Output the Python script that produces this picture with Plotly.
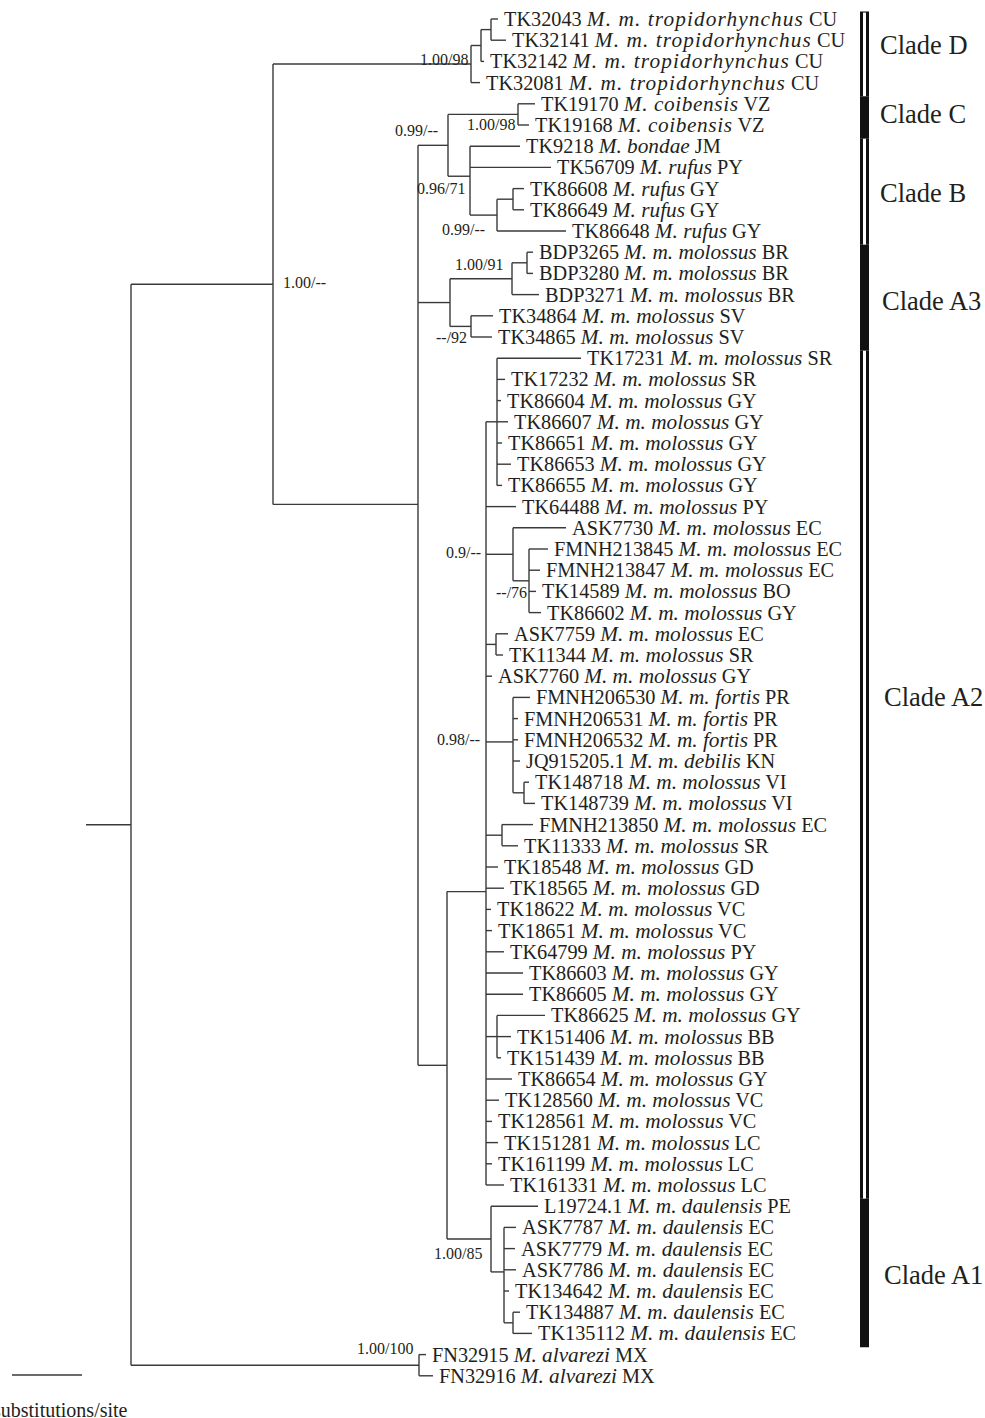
import plotly.graph_objects as go

# ---------------- data ----------------
tip_ids = ["TK32043", "TK32141", "TK32142", "TK32081", "TK19170", "TK19168", "TK9218", "TK56709",
           "TK86608", "TK86649", "TK86648", "BDP3265", "BDP3280", "BDP3271", "TK34864", "TK34865",
           "TK17231", "TK17232", "TK86604", "TK86607", "TK86651", "TK86653", "TK86655", "TK64488",
           "ASK7730", "FMNH213845", "FMNH213847", "TK14589", "TK86602", "ASK7759", "TK11344", "ASK7760",
           "FMNH206530", "FMNH206531", "FMNH206532", "JQ915205.1", "TK148718", "TK148739", "FMNH213850",
           "TK11333", "TK18548", "TK18565", "TK18622", "TK18651", "TK64799", "TK86603", "TK86605",
           "TK86625", "TK151406", "TK151439", "TK86654", "TK128560", "TK128561", "TK151281", "TK161199",
           "TK161331", "L19724.1", "ASK7787", "ASK7779", "ASK7786", "TK134642", "TK134887", "TK135112",
           "FN32915", "FN32916"]
tip_taxa = (["M. m. tropidorhynchus"] * 4 + ["M. coibensis"] * 2 + ["M. bondae"] + ["M. rufus"] * 4
            + ["M. m. molossus"] * 21 + ["M. m. fortis"] * 3 + ["M. m. debilis"] + ["M. m. molossus"] * 20
            + ["M. m. daulensis"] * 7 + ["M. alvarezi"] * 2)
tip_codes = ["CU", "CU", "CU", "CU", "VZ", "VZ", "JM", "PY", "GY", "GY", "GY", "BR", "BR", "BR", "SV", "SV",
             "SR", "SR", "GY", "GY", "GY", "GY", "GY", "PY", "EC", "EC", "EC", "BO", "GY", "EC", "SR", "GY",
             "PR", "PR", "PR", "KN", "VI", "VI", "EC", "SR", "GD", "GD", "VC", "VC", "PY", "GY", "GY",
             "GY", "BB", "BB", "GY", "VC", "VC", "LC", "LC", "LC", "PE", "EC", "EC", "EC", "EC", "EC", "EC",
             "MX", "MX"]
# depth (cumulative branch length, drawing units) of each tip
tip_depth = [498, 506, 484, 480, 535, 529, 520, 551, 524, 524, 566, 533, 533, 539, 493, 492,
             581, 505, 501, 508, 502, 511, 502, 516, 566, 548, 540, 536, 541, 508, 503, 492,
             530, 518, 518, 520, 529, 535, 533, 518, 498, 504, 491, 492, 504, 523, 523,
             545, 511, 501, 512, 499, 492, 498, 492, 504, 538, 516, 515, 516, 509, 520, 532,
             426, 433]

# internal nodes: name, depth, children (ints = tips, str = nodes)
node_names = ["root", "outgroup", "ingroup", "D", "D1", "D2", "ABC", "CB", "C", "B", "Ruf", "RufS",
              "A3", "BR", "BRs", "SV", "A", "A2", "G1", "N09", "N76", "P30", "N098", "VI", "P38", "BB",
              "A1", "A1s", "A1ss"]
node_depth = [131, 419, 273, 471, 481, 491, 418, 448, 518, 470, 497, 513,
              450, 512, 527, 471, 447, 486, 497, 513, 529, 496, 513, 524, 502, 497,
              491, 504, 513]
node_children = [
    ["ingroup", "outgroup"], [63, 64], ["D", "ABC"], ["D1", 3], ["D2", 2], [0, 1],
    ["CB", "A3", "A"], ["C", "B"], [4, 5], [6, 7, "Ruf"], ["RufS", 10], [8, 9],
    ["BR", "SV"], ["BRs", 13], [11, 12], [14, 15], ["A2", "A1"],
    ["G1", 23, "N09", "P30", 31, "N098", "P38", 40, 41, 42, 43, 44, 45, 46, "BB", 50, 51, 52, 53, 54, 55],
    [16, 17, 18, 19, 20, 21, 22], [24, "N76"], [25, 26, 27, 28], [29, 30], [32, 33, 34, 35, "VI"],
    [36, 37], [38, 39], [47, 48, 49], [56, "A1s"], [57, 58, 59, 60, "A1ss"], [61, 62]]

support_nodes = ["D", "C", "CB", "B", "Ruf", "BR", "SV", "ingroup", "N09", "N76", "N098", "A1", "outgroup"]
support_text = ["1.00/98", "1.00/98", "0.99/--", "0.96/71", "0.99/--", "1.00/91", "--/92", "1.00/--",
                "0.9/--", "--/76", "0.98/--", "1.00/85", "1.00/100"]

clade_names = ["Clade D", "Clade C", "Clade B", "Clade A3", "Clade A2", "Clade A1"]
clade_first = [0, 4, 6, 11, 16, 56]
clade_last = [3, 5, 10, 15, 55, 62]
clade_filled = [False, True, False, True, False, True]

scale_label = "substitutions/site"

# ---------------- layout helpers ----------------
W, H = 985, 1418
ROW0, ROWH = 19.0, 21.2
FONT = "Liberation Serif"
TXT = "#231f20"
LINE = "#3a3a3a"

tip_y = [ROW0 + ROWH * i for i in range(len(tip_ids))]
nidx = {n: i for i, n in enumerate(node_names)}
node_y = {}


def pos(c):
    if isinstance(c, int):
        return tip_depth[c], tip_y[c]
    return node_depth[nidx[c]], get_y(c)


def get_y(n):
    if n not in node_y:
        ys = [pos(c)[1] for c in node_children[nidx[n]]]
        node_y[n] = sum(ys) / len(ys)
    return node_y[n]


xs, ys = [], []
for n in node_names:
    nx = node_depth[nidx[n]]
    cys = [pos(c)[1] for c in node_children[nidx[n]]]
    xs += [nx, nx, None]
    ys += [min(cys), max(cys), None]
    for c in node_children[nidx[n]]:
        cx, cy = pos(c)
        xs += [nx, cx, None]
        ys += [cy, cy, None]
# root stub
ry = get_y("root")
xs += [86, node_depth[nidx["root"]], None]
ys += [ry, ry, None]
# scale bar
xs += [12, 82, None]
ys += [1375, 1375, None]

fig = go.Figure()
fig.add_trace(go.Scatter(x=xs, y=ys, mode="lines", line=dict(color=LINE, width=1.4),
                         hoverinfo="skip", showlegend=False))

# per-taxon italic letter spacing (style only)
spacing = {"M. m. tropidorhynchus": 1.1, "M. coibensis": 0.6}

ann = []
for i in range(len(tip_ids)):
    sp = spacing.get(tip_taxa[i], 0)
    style = f"font-size:21.3px;letter-spacing:{sp}px" if sp else "font-size:21.3px"
    ann.append(dict(x=tip_depth[i] + 4, y=tip_y[i], xanchor="left", yanchor="middle",
                    text=f"{tip_ids[i]} <i><span style='{style}'>{tip_taxa[i]}</span></i> {tip_codes[i]}",
                    showarrow=False, font=dict(family=FONT, size=20.3, color=TXT)))

# support label placement (dx, dy, anchor) relative to node
place = {"D": (-1, -5, "right"), "C": (-1, 10, "right"), "CB": (-8, -15, "right"),
         "B": (-3, 12, "right"), "Ruf": (-10, 14, "right"), "BR": (-7, -14, "right"),
         "SV": (-2, 11.5, "right"), "ingroup": (8, -2, "left"), "N09": (-30, -2, "right"),
         "N76": (0, 11.5, "right"), "N098": (-31, -2, "right"), "A1": (-7, 14, "right"),
         "outgroup": (-4, -16.5, "right")}
for n, t in zip(support_nodes, support_text):
    dx, dy, anc = place[n]
    ann.append(dict(x=node_depth[nidx[n]] + dx, y=get_y(n) + dy, xanchor=anc, yanchor="middle",
                    text=t, showarrow=False, font=dict(family=FONT, size=16, color=TXT)))

# clade bars
shapes = []
BX0, BX1 = 860, 869
label_y = [45, 114, 193, 301, 697, 1275]
label_x = [878, 878, 878, 880, 882, 882]
for k in range(len(clade_names)):
    y0 = ROW0 + ROWH * (clade_first[k] - 0.35)
    y1 = ROW0 + ROWH * (clade_last[k] + 0.65)
    shapes.append(dict(type="rect", x0=BX0, x1=BX1, y0=y0, y1=y1, fillcolor="#111111",
                       line=dict(width=0), layer="above"))
    if not clade_filled[k]:
        shapes.append(dict(type="rect", x0=BX0 + 3, x1=BX1 - 3, y0=y0 + 1 if k == 0 else y0,
                           y1=y1, fillcolor="white", line=dict(width=0), layer="above"))
    ann.append(dict(x=label_x[k], y=label_y[k], xanchor="left", yanchor="middle", text=clade_names[k],
                    showarrow=False, font=dict(family=FONT, size=26.5, color=TXT)))

ann.append(dict(x=130, y=1410, xanchor="right", yanchor="middle", text=scale_label,
                showarrow=False, font=dict(family=FONT, size=20, color=TXT)))

fig.update_layout(width=W, height=H, margin=dict(l=0, r=0, t=0, b=0),
                  paper_bgcolor="white", plot_bgcolor="white",
                  xaxis=dict(range=[0, W], visible=False, fixedrange=True),
                  yaxis=dict(range=[H, 0], visible=False, fixedrange=True),
                  annotations=ann, shapes=shapes, showlegend=False)
fig.write_html("out.html", config={"displayModeBar": False},
               post_script="document.body.style.margin='0';document.body.style.overflow='hidden';")
